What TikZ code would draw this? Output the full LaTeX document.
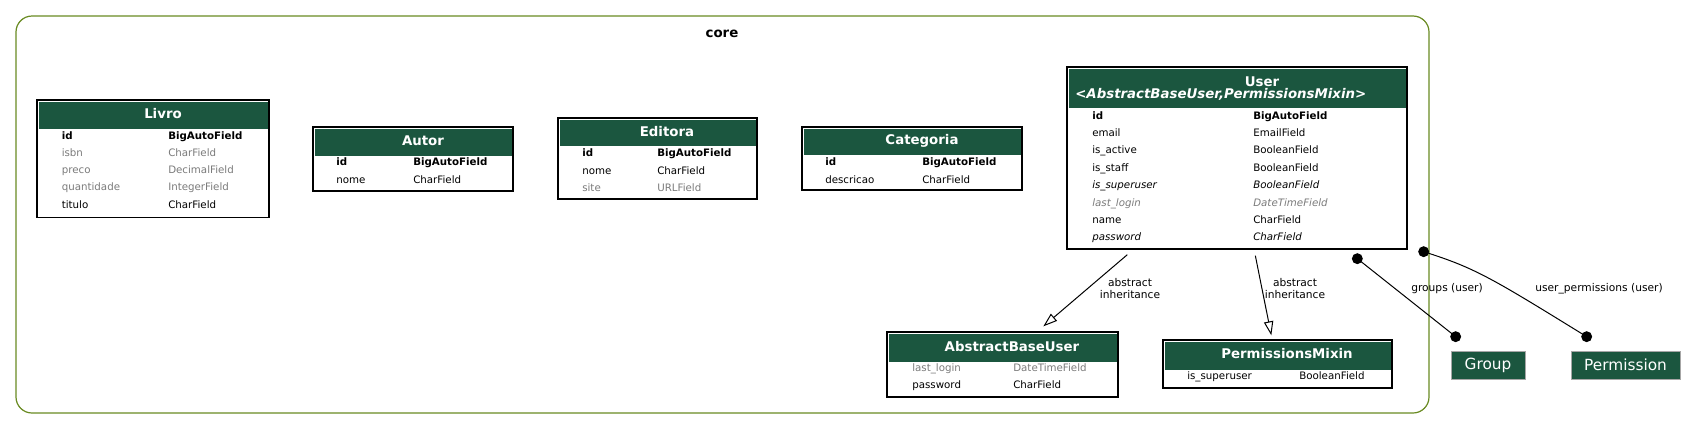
\documentclass[tikz,border=0pt]{standalone}
\usepackage{fontspec}
\setmainfont{DejaVu Sans}
\usetikzlibrary{fit,calc,arrows.meta}
\definecolor{hdrgreen}{HTML}{1B563F}
\definecolor{clusterc}{HTML}{698B22}
\definecolor{nullgray}{HTML}{7B7B7B}
\newcommand\fldfont{\fontsize{7.7}{9}\selectfont}
% #1 node prefix, #2 x of name, #3 x of type, #4 visual y, #5 style, #6 name, #7 type
\newcommand\frow[7]{%
  \node[fld,#5] (#1n) at (#2,#4+3.7) {#6};
  \node[fld,#5] (#1t) at (#3,#4+3.7) {#7};}
\begin{document}
\begin{tikzpicture}[x=0.75pt,y=-0.75pt,
  tbl/.style={draw=black,line width=1pt,fill=white,inner sep=0pt,rectangle},
  hdr/.style={fill=hdrgreen,draw=none,inner sep=0pt,rectangle},
  htxt/.style={text=white,font=\bfseries\fontsize{10}{12}\selectfont,inner sep=0pt,anchor=base},
  fld/.style={font=\fldfont,anchor=base west,inner sep=0pt},
  pk/.style={font=\fldfont\bfseries},
  it/.style={font=\fldfont\itshape},
  nul/.style={text=nullgray},
  cluster/.style={draw=clusterc,line width=0.9pt,rounded corners=12pt,inner sep=0pt,rectangle},
  lbl/.style={font=\fontsize{8}{9}\selectfont,align=center,inner sep=0pt},
  ext/.style={fill=hdrgreen,draw=black!35,line width=0.5pt,inner sep=0pt,rectangle},
  exttxt/.style={text=white,font=\fontsize{11.5}{13}\selectfont,inner sep=0pt},
  edge/.style={draw=black,line width=0.75pt},
  inh/.style={edge,-{Triangle[open,length=10.5pt,width=7pt]}},
  dot/.style={circle,fill=black,inner sep=0pt,minimum size=8.2pt}]
\useasboundingbox (0,0) rectangle (1696,429);
\fill[white] (0,0) rectangle (1696,429);

% cluster
\node[cluster,fit={(16,16)(1429,413)}] (core) {};
\node[font=\bfseries\fontsize{10}{12}\selectfont,inner sep=0pt] (corelbl) at (722,34) {core};

% Livro
\node[tbl,fit={(37,100)(269,217.5)}] (livro) {};
\node[hdr,fit={(38.5,101.5)(267.5,128.5)}] (livroh) {};
\node[htxt] (livrot) at (163,118) {Livro};
\frow{livro1}{61.5}{168}{135.5}{pk}{id}{BigAutoField}
\frow{livro2}{61.5}{168}{153}{nul}{isbn}{CharField}
\frow{livro3}{61.5}{168}{170}{nul}{preco}{DecimalField}
\frow{livro4}{61.5}{168}{187}{nul}{quantidade}{IntegerField}
\frow{livro5}{61.5}{168}{204.3}{}{titulo}{CharField}

% Autor
\node[tbl,fit={(313,127)(513,191)}] (autor) {};
\node[hdr,fit={(314.5,128.5)(511.5,156)}] (autorh) {};
\node[htxt] (autort) at (423,145) {Autor};
\frow{autor1}{336}{413}{162}{pk}{id}{BigAutoField}
\frow{autor2}{336}{413}{179.5}{}{nome}{CharField}

% Editora
\node[tbl,fit={(558,118)(757,199)}] (editora) {};
\node[hdr,fit={(559.5,119.5)(755.5,146)}] (editorah) {};
\node[htxt] (editorat) at (667,136) {Editora};
\frow{editora1}{582}{657}{153}{pk}{id}{BigAutoField}
\frow{editora2}{582}{657}{170.5}{}{nome}{CharField}
\frow{editora3}{582}{657}{188}{nul}{site}{URLField}

% Categoria
\node[tbl,fit={(802,127)(1022,190)}] (categoria) {};
\node[hdr,fit={(803.5,128.5)(1020.5,155)}] (categoriah) {};
\node[htxt] (categoriat) at (922,144.5) {Categoria};
\frow{categoria1}{825}{922}{162}{pk}{id}{BigAutoField}
\frow{categoria2}{825}{922}{179.5}{}{descricao}{CharField}

% User
\node[tbl,fit={(1067,67)(1407,249)}] (user) {};
\node[hdr,fit={(1068.5,68.5)(1405.5,108)}] (userh) {};
\node[htxt] (usert) at (1262,86) {User};
\node[htxt,anchor=base west,font=\bfseries\itshape\fontsize{10}{12}\selectfont] (users) at (1075,98.5) {<AbstractBaseUser,PermissionsMixin>};
\frow{user1}{1092}{1253}{115.3}{pk}{id}{BigAutoField}
\frow{user2}{1092}{1253}{132.7}{}{email}{EmailField}
\frow{user3}{1092}{1253}{150.1}{}{is\_active}{BooleanField}
\frow{user4}{1092}{1253}{167.5}{}{is\_staff}{BooleanField}
\frow{user5}{1092}{1253}{184.9}{it}{is\_superuser}{BooleanField}
\frow{user6}{1092}{1253}{202.3}{it,nul}{last\_login}{DateTimeField}
\frow{user7}{1092}{1253}{219.7}{}{name}{CharField}
\frow{user8}{1092}{1253}{237.1}{it}{password}{CharField}

% AbstractBaseUser
\node[tbl,fit={(887,332)(1118,397)}] (abu) {};
\node[hdr,fit={(888.5,333.5)(1116.5,362)}] (abuh) {};
\node[htxt] (abut) at (1012,351) {AbstractBaseUser};
\frow{abu1}{912}{1013}{368}{nul}{last\_login}{DateTimeField}
\frow{abu2}{912}{1013}{385}{}{password}{CharField}

% PermissionsMixin
\node[tbl,fit={(1163,340)(1392,388)}] (pm) {};
\node[hdr,fit={(1164.5,341.5)(1390.5,370)}] (pmh) {};
\node[htxt] (pmt) at (1287,358.5) {PermissionsMixin};
\frow{pm1}{1187}{1299}{376}{}{is\_superuser}{BooleanField}

% external models
\node[ext,fit={(1451,351)(1525,379)}] (group) {};
\node[exttxt] (groupt) at (group.center) {Group};
\node[ext,fit={(1571,351)(1680,379)}] (perm) {};
\node[exttxt] (permt) at (perm.center) {Permission};

% inheritance edges
\draw[inh] ($(user.south west)+(61,5)$) -- ($(abu.north west)+(157,-5)$);
\node[lbl] (l1) at (1130,289) {abstract\\inheritance};
\draw[inh] ($(user.south west)+(189,6)$) -- ($(pm.north west)+(109,-4)$);
\node[lbl] (l2) at (1295,289) {abstract\\inheritance};

% many-to-many edges
\coordinate (g1) at ($(user.south west)+(291,9)$);
\coordinate (g2) at ($(group.north west)+(5,-14)$);
\draw[edge] (g1) -- (g2);
\node[dot] (g1d) at (g1) {};
\node[dot] (g2d) at (g2) {};
\node[lbl] (l3) at (1447,289) {groups (user)};

\coordinate (p1) at ($(user.south east)+(16,2)$);
\coordinate (p2) at ($(perm.north west)+(16,-14)$);
\draw[edge] (p1) .. controls (1475,268) and (1490,277) .. (p2);
\node[dot] (p1d) at (p1) {};
\node[dot] (p2d) at (p2) {};
\node[lbl] (l4) at (1599,289) {user\_permissions (user)};
\end{tikzpicture}
\end{document}
